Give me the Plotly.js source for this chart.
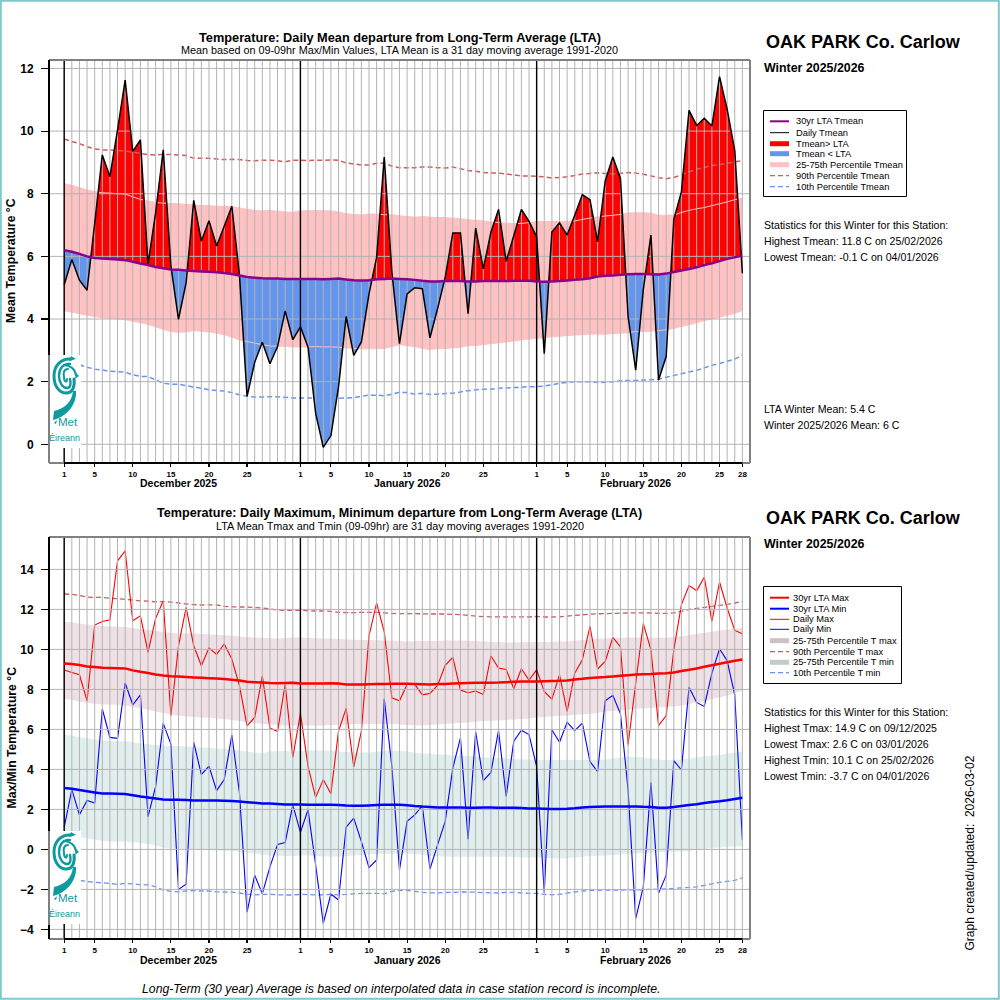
<!DOCTYPE html>
<html><head><meta charset="utf-8">
<script src="https://cdn.plot.ly/plotly-3.0.1.min.js"></script>
<style>html,body{margin:0;padding:0;background:#fff}#g{width:1000px;height:1000px}</style>
</head><body><div id="g"></div>
<script>
// ---- top panel values (1 Dec 2025 .. 28 Feb 2026)
const tmean=[5.09,5.9,5.24,4.92,7.05,9.24,8.55,10.04,11.63,9.35,9.72,5.75,7.4,9.4,5.7,3.99,5.16,7.79,6.49,7.14,6.33,6.96,7.6,5.4,1.53,2.62,3.26,2.57,3.12,4.26,3.34,
3.75,3.1,0.99,-0.1,0.28,1.83,4.08,2.84,3.27,4.8,5.97,9.17,5.5,3.21,4.8,5.0,4.97,3.4,4.33,5.33,6.75,6.75,4.17,6.9,5.6,6.77,7.5,5.84,6.66,7.5,7.12,
6.63,2.89,6.78,7.07,6.68,7.31,7.97,7.81,6.47,8.41,9.17,8.48,4.08,2.37,4.95,6.68,2.05,2.8,7.18,8.06,10.66,10.18,10.41,10.16,11.74,10.7,9.38,5.46];
const ltaMean=[6.2,6.15,6.08,6.0,5.95,5.93,5.92,5.9,5.88,5.83,5.77,5.72,5.66,5.62,5.58,5.57,5.55,5.53,5.52,5.51,5.49,5.47,5.44,5.39,5.34,5.32,5.3,5.29,5.29,5.28,5.28,
5.28,5.28,5.28,5.27,5.28,5.29,5.26,5.24,5.23,5.24,5.27,5.28,5.29,5.28,5.27,5.25,5.22,5.2,5.2,5.21,5.21,5.21,5.2,5.2,5.21,5.21,5.21,5.21,5.22,5.22,5.22,
5.2,5.19,5.2,5.21,5.23,5.25,5.27,5.3,5.36,5.38,5.39,5.41,5.43,5.44,5.44,5.43,5.42,5.45,5.5,5.55,5.6,5.65,5.72,5.78,5.85,5.92,5.97,6.03];
const mean75=[8.32,8.27,8.2,8.12,8.07,8.03,8.02,8.0,7.99,7.9,7.82,7.77,7.72,7.7,7.69,7.68,7.66,7.64,7.62,7.62,7.6,7.6,7.59,7.55,7.5,7.47,7.45,7.47,7.44,7.42,7.41,
7.45,7.46,7.46,7.46,7.45,7.42,7.36,7.34,7.32,7.35,7.35,7.33,7.33,7.3,7.27,7.25,7.27,7.25,7.24,7.24,7.22,7.2,7.17,7.15,7.13,7.1,7.08,7.06,7.05,7.05,7.08,
7.11,7.11,7.11,7.12,7.12,7.13,7.18,7.22,7.26,7.29,7.31,7.34,7.39,7.39,7.39,7.38,7.31,7.31,7.32,7.4,7.47,7.52,7.56,7.62,7.68,7.74,7.81,7.85];
const mean25=[4.26,4.22,4.17,4.12,4.08,4.04,4.02,4.0,3.98,3.93,3.88,3.83,3.75,3.67,3.6,3.57,3.59,3.63,3.61,3.59,3.55,3.5,3.42,3.33,3.28,3.23,3.18,3.14,3.13,3.13,3.11,
3.11,3.11,3.12,3.11,3.11,3.1,3.08,3.06,3.05,3.05,3.05,3.06,3.12,3.18,3.15,3.12,3.06,3.03,3.05,3.06,3.08,3.1,3.15,3.16,3.18,3.22,3.24,3.27,3.3,3.33,3.36,
3.39,3.4,3.43,3.45,3.47,3.49,3.5,3.52,3.52,3.51,3.54,3.55,3.57,3.6,3.6,3.61,3.63,3.66,3.7,3.76,3.82,3.88,3.95,4.0,4.06,4.12,4.18,4.28];
const mean90=[9.75,9.67,9.6,9.5,9.43,9.4,9.4,9.38,9.36,9.33,9.29,9.25,9.24,9.26,9.25,9.24,9.22,9.13,9.13,9.13,9.11,9.09,9.1,9.09,9.06,9.05,9.07,9.07,9.05,9.02,9.07,
9.07,9.06,9.07,9.07,9.08,9.07,8.98,8.95,8.92,8.92,8.97,8.98,8.88,8.83,8.83,8.83,8.85,8.85,8.83,8.82,8.85,8.8,8.74,8.72,8.68,8.66,8.66,8.63,8.6,8.57,8.57,
8.56,8.54,8.5,8.52,8.54,8.58,8.63,8.65,8.67,8.65,8.63,8.65,8.68,8.66,8.62,8.57,8.51,8.48,8.52,8.6,8.7,8.78,8.84,8.9,8.93,8.97,9.02,9.05];
const mean10=[2.72,2.62,2.54,2.46,2.4,2.37,2.33,2.32,2.3,2.22,2.17,2.16,2.06,1.95,1.92,1.92,1.87,1.83,1.79,1.74,1.72,1.7,1.65,1.58,1.53,1.51,1.51,1.52,1.52,1.5,1.48,
1.48,1.48,1.48,1.47,1.47,1.47,1.48,1.49,1.53,1.57,1.57,1.55,1.6,1.66,1.65,1.6,1.63,1.59,1.6,1.62,1.63,1.67,1.71,1.74,1.76,1.76,1.79,1.8,1.81,1.82,1.84,
1.84,1.86,1.9,1.95,1.98,2.0,2.0,2.0,1.97,1.98,2.0,2.03,2.04,2.04,2.05,2.06,2.08,2.14,2.2,2.25,2.31,2.36,2.44,2.52,2.58,2.65,2.72,2.85];
// ---- bottom panel values
const tmax=[8.97,8.85,8.73,7.43,11.22,11.4,11.48,14.43,14.93,11.43,11.68,9.85,11.55,12.43,6.68,10.18,12.1,10.18,9.18,10.08,9.75,10.27,9.52,8.18,6.18,6.6,8.68,6.07,5.9,8.27,4.6,
6.8,4.15,2.6,3.49,2.78,5.91,7.05,4.12,5.91,10.68,12.32,10.88,7.58,7.43,8.25,8.25,7.73,7.8,8.2,9.2,9.6,7.97,7.83,7.92,7.75,9.67,9.07,9.0,8.03,9.03,8.47,
8.98,7.9,7.51,8.73,6.9,8.81,9.48,11.15,9.02,9.4,10.6,10.12,5.23,8.31,11.29,9.98,6.19,6.69,9.98,12.24,13.19,12.94,13.61,11.4,13.37,12.07,10.95,10.78];
const tmin=[1.1,2.99,1.73,2.45,2.32,7.02,5.6,5.55,8.32,7.23,7.73,1.64,3.15,6.3,5.27,-2.0,-1.74,5.35,3.74,4.16,2.94,3.49,5.72,2.82,-3.14,-1.29,-2.21,-0.87,0.25,0.34,2.23,
0.85,1.98,-0.78,-3.7,-2.23,-2.53,1.11,1.56,0.39,-0.91,-0.53,7.53,4.15,-1.03,1.4,1.73,2.18,-0.98,0.23,1.4,4.07,5.58,0.51,5.88,3.44,3.85,5.94,2.65,5.41,5.96,5.74,
4.14,-2.17,5.98,5.36,6.36,5.94,6.31,4.39,3.89,7.43,7.7,6.78,2.97,-3.46,-1.87,3.34,-2.2,-1.29,4.44,3.97,8.11,7.35,7.15,8.81,10.03,9.43,7.73,0.47];
const ltaMax=[9.3,9.27,9.22,9.15,9.12,9.08,9.07,9.06,9.05,8.95,8.88,8.82,8.75,8.7,8.66,8.64,8.62,8.6,8.58,8.56,8.54,8.52,8.48,8.44,8.38,8.36,8.34,8.32,8.31,8.32,8.33,
8.29,8.29,8.3,8.3,8.31,8.29,8.25,8.24,8.24,8.26,8.27,8.27,8.28,8.28,8.28,8.27,8.26,8.25,8.27,8.27,8.3,8.31,8.32,8.33,8.33,8.33,8.34,8.36,8.38,8.39,8.4,
8.4,8.41,8.42,8.43,8.45,8.5,8.53,8.57,8.6,8.62,8.65,8.68,8.71,8.74,8.76,8.77,8.79,8.81,8.85,8.92,8.98,9.05,9.13,9.21,9.28,9.36,9.43,9.5];
const ltaMin=[3.07,3.03,2.97,2.91,2.85,2.8,2.79,2.78,2.77,2.71,2.64,2.6,2.55,2.5,2.48,2.48,2.47,2.45,2.45,2.45,2.44,2.43,2.42,2.39,2.36,2.33,2.3,2.29,2.27,2.25,2.25,
2.24,2.23,2.23,2.23,2.23,2.22,2.19,2.18,2.18,2.2,2.22,2.23,2.23,2.23,2.21,2.17,2.14,2.12,2.09,2.09,2.09,2.09,2.08,2.08,2.09,2.09,2.08,2.08,2.08,2.07,2.05,
2.04,2.03,2.02,2.02,2.03,2.06,2.1,2.12,2.13,2.14,2.14,2.15,2.15,2.15,2.13,2.12,2.08,2.08,2.12,2.17,2.22,2.26,2.32,2.37,2.41,2.46,2.52,2.58];
const max75=[11.37,11.36,11.3,11.25,11.2,11.17,11.15,11.13,11.12,11.07,11.02,10.98,10.93,10.87,10.83,10.8,10.8,10.79,10.77,10.75,10.73,10.71,10.68,10.65,10.62,10.6,10.58,10.56,10.55,10.57,10.6,
10.6,10.58,10.56,10.55,10.54,10.52,10.5,10.48,10.47,10.47,10.46,10.44,10.44,10.42,10.4,10.41,10.42,10.42,10.42,10.44,10.44,10.44,10.43,10.41,10.39,10.37,10.37,10.35,10.35,10.36,10.37,
10.37,10.37,10.38,10.39,10.4,10.44,10.47,10.5,10.53,10.55,10.57,10.58,10.6,10.6,10.6,10.58,10.58,10.58,10.61,10.66,10.72,10.77,10.83,10.88,10.94,10.98,11.05,11.07];
const max25=[7.52,7.47,7.4,7.33,7.28,7.25,7.25,7.23,7.2,7.13,7.06,6.98,6.9,6.82,6.75,6.68,6.66,6.62,6.6,6.58,6.55,6.52,6.47,6.42,6.35,6.32,6.27,6.25,6.22,6.2,6.2,
6.2,6.2,6.2,6.2,6.22,6.23,6.25,6.27,6.27,6.27,6.27,6.28,6.27,6.25,6.22,6.21,6.2,6.22,6.25,6.27,6.3,6.33,6.35,6.38,6.42,6.43,6.44,6.47,6.5,6.52,6.55,
6.59,6.62,6.65,6.67,6.69,6.72,6.75,6.78,6.82,6.89,6.92,6.95,7.0,7.03,7.05,7.08,7.1,7.12,7.15,7.2,7.27,7.34,7.41,7.52,7.6,7.7,7.82,7.93];
const min75=[5.73,5.68,5.62,5.55,5.5,5.45,5.42,5.42,5.42,5.36,5.3,5.26,5.22,5.19,5.17,5.17,5.15,5.12,5.1,5.08,5.05,5.02,4.99,4.95,4.9,4.85,4.82,4.9,4.92,4.92,4.9,
4.95,4.95,4.95,4.95,4.93,4.9,4.87,4.85,4.85,4.85,4.88,4.92,4.93,4.93,4.9,4.85,4.8,4.78,4.75,4.73,4.7,4.68,4.67,4.65,4.6,4.58,4.56,4.54,4.52,4.5,4.5,
4.47,4.47,4.47,4.48,4.48,4.48,4.47,4.47,4.48,4.5,4.55,4.6,4.63,4.62,4.6,4.55,4.5,4.47,4.48,4.5,4.55,4.6,4.64,4.68,4.73,4.78,4.83,4.89];
const min25=[0.72,0.66,0.6,0.55,0.5,0.42,0.4,0.38,0.4,0.36,0.33,0.27,0.2,0.1,0.05,0.03,0.03,0.0,-0.03,-0.03,-0.05,-0.07,-0.08,-0.13,-0.17,-0.2,-0.27,-0.3,-0.32,-0.33,-0.33,
-0.3,-0.3,-0.33,-0.35,-0.35,-0.35,-0.33,-0.3,-0.27,-0.25,-0.22,-0.22,-0.22,-0.2,-0.2,-0.23,-0.27,-0.33,-0.33,-0.37,-0.37,-0.37,-0.37,-0.37,-0.37,-0.37,-0.37,-0.37,-0.37,-0.4,-0.4,
-0.4,-0.42,-0.43,-0.45,-0.43,-0.4,-0.37,-0.33,-0.32,-0.3,-0.28,-0.25,-0.22,-0.2,-0.18,-0.17,-0.13,-0.12,-0.1,-0.1,-0.07,-0.03,0.02,0.07,0.1,0.13,0.15,0.15];
const max90=[12.77,12.75,12.7,12.62,12.6,12.6,12.56,12.54,12.5,12.47,12.43,12.41,12.38,12.39,12.36,12.32,12.27,12.24,12.22,12.23,12.22,12.15,12.13,12.12,12.12,12.09,12.07,12.03,11.97,11.95,11.95,
11.97,11.93,11.92,11.92,11.9,11.85,11.84,11.84,11.85,11.85,11.85,11.83,11.8,11.78,11.79,11.79,11.78,11.77,11.77,11.77,11.75,11.74,11.7,11.66,11.64,11.63,11.63,11.62,11.63,11.63,11.62,
11.65,11.62,11.62,11.63,11.66,11.7,11.73,11.76,11.78,11.79,11.8,11.81,11.82,11.83,11.83,11.82,11.8,11.8,11.83,11.9,12.0,12.05,12.1,12.15,12.2,12.25,12.32,12.4];
const min10=[-1.45,-1.5,-1.55,-1.6,-1.65,-1.67,-1.7,-1.75,-1.7,-1.72,-1.77,-1.77,-1.87,-2.03,-2.1,-2.12,-2.08,-2.06,-2.08,-2.08,-2.12,-2.13,-2.14,-2.18,-2.24,-2.27,-2.25,-2.25,-2.27,-2.28,-2.28,
-2.25,-2.26,-2.27,-2.27,-2.25,-2.27,-2.25,-2.22,-2.2,-2.2,-2.2,-2.22,-2.1,-2.05,-2.05,-2.1,-2.15,-2.17,-2.17,-2.15,-2.15,-2.13,-2.13,-2.14,-2.16,-2.17,-2.18,-2.15,-2.15,-2.18,-2.2,
-2.2,-2.25,-2.27,-2.25,-2.18,-2.13,-2.08,-2.05,-2.05,-2.03,-2.03,-2.03,-2.02,-2.02,-2.02,-2.0,-2.0,-1.97,-1.95,-1.92,-1.9,-1.87,-1.8,-1.72,-1.65,-1.6,-1.55,-1.42];

// ---- axis labels (day index counted from 1 Dec)
const dayIndex=tmean.map((_,i)=>i);
const monthStarts=[0,31,62];
const xTickVals=[0,4,9,14,19,24,31,35,40,45,50,55,62,66,71,76,81,86,89];
const xTickText=['1','5','10','15','20','25','1','5','10','15','20','25','1','5','10','15','20','25','28'];
const yTopTicks=[0,2,4,6,8,10,12];
const yBotTicks=[-4,-2,0,2,4,6,8,10,12,14];
const monthLabels=['December 2025','January 2026','February 2026'];
const stationName='OAK PARK Co. Carlow', seasonName='Winter 2025/2026';
const legendTop=['30yr LTA Tmean','Daily Tmean','Tmean> LTA','Tmean < LTA','25-75th Percentile Tmean','90th Percentile Tmean','10th Percentile Tmean'];
const legendBot=['30yr LTA Max','30yr LTA Min','Daily Max','Daily Min','25-75th Percentile T max','90th Percentile T max','25-75th Percentile T min','10th Percentile T min'];
const statsTop=['Statistics for this Winter for this Station:','Highest Tmean: 11.8 C on 25/02/2026','Lowest Tmean: -0.1 C on 04/01/2026'];
const statsTop2=['LTA Winter Mean: 5.4 C','Winter 2025/2026 Mean: 6 C'];
const statsBot=['Statistics for this Winter for this Station:','Highest Tmax: 14.9 C on 09/12/2025','Lowest Tmax: 2.6 C on 03/01/2026','Highest Tmin: 10.1 C on 25/02/2026','Lowest Tmin: -3.7 C on 04/01/2026'];

// ---- colours
const cPurple='#8B008B',cRed='#FF0000',cBlue='#6495ED',cBand='#FFC1C1',cIR='#CD5C5C',cGrid='#B3B3B3',cFrame='#808080';
const cMaxBand='#EEE0E5',cMinBand='#E0EEEE',cMaxKey='#CDC1C5',cMinKey='#C1CDCD',cTeal='#0E9A9E';
const FONT='"Liberation Sans", Arial, sans-serif';
const xRange=[-1.995,90.0], yTopRange=[-0.597,12.27], yBotRange=[-4.48,15.62];
const px=x=>x/1000, py=y=>1-y/1000;

// split the departure polygon where the daily line crosses the LTA
function splitAtCrossings(d,l){
  const xs=[],dd=[],ll=[];
  for(let i=0;i<d.length;i++){
    xs.push(i);dd.push(d[i]);ll.push(l[i]);
    if(i<d.length-1){
      const a=d[i]-l[i],b=d[i+1]-l[i+1];
      if(a*b<0){const t=a/(a-b);const v=l[i]+t*(l[i+1]-l[i]);xs.push(i+t);dd.push(v);ll.push(v);}
    }
  }
  return {xs,dd,ll};
}
const sp=splitAtCrossings(tmean,ltaMean);
const upper=sp.dd.map((v,i)=>Math.max(v,sp.ll[i]));
const lower=sp.dd.map((v,i)=>Math.min(v,sp.ll[i]));

const L=(x,y,xa,ya,color,width,dash,extra)=>Object.assign({type:'scatter',mode:'lines',x,y,xaxis:xa,yaxis:ya,hoverinfo:'skip',showlegend:false,line:{color,width,dash:dash||'solid',simplify:false}},extra||{});
const FILLNOLINE=(x,y,xa,ya,fc)=>({type:'scatter',mode:'lines',x,y,xaxis:xa,yaxis:ya,fill:'tonexty',fillcolor:fc,line:{width:0,color:'rgba(0,0,0,0)',simplify:false},hoverinfo:'skip',showlegend:false});
const BASE=(x,y,xa,ya)=>({type:'scatter',mode:'lines',x,y,xaxis:xa,yaxis:ya,line:{width:0,color:'rgba(0,0,0,0)',simplify:false},hoverinfo:'skip',showlegend:false});

function gridTrace(xa,ya,yticks,yr){
  const gx=[],gy=[];
  dayIndex.forEach(i=>{gx.push(i,i,null);gy.push(yr[0],yr[1],null);});
  yticks.forEach(v=>{gx.push(xRange[0],xRange[1],null);gy.push(v,v,null);});
  return L(gx,gy,xa,ya,cGrid,1);
}
function monthTrace(xa,ya,yr){
  const gx=[],gy=[];
  monthStarts.forEach(i=>{gx.push(i,i,null);gy.push(yr[0],yr[1],null);});
  return L(gx,gy,xa,ya,'#000',1.4);
}
const dash='5px,3px';
const traces=[
  // top panel
  BASE(dayIndex,mean25,'x','y'),
  FILLNOLINE(dayIndex,mean75,'x','y',cBand),
  BASE(sp.xs,sp.ll,'x','y'),
  FILLNOLINE(sp.xs,upper,'x','y',cRed),
  BASE(sp.xs,sp.ll,'x','y'),
  FILLNOLINE(sp.xs,lower,'x','y',cBlue),
  L(dayIndex,mean75,'x','y',cBand,1),
  L(dayIndex,mean25,'x','y',cBand,1),
  L(dayIndex,mean90,'x','y',cIR,1.5,dash),
  L(dayIndex,mean10,'x','y',cBlue,1.5,dash),
  gridTrace('x','y',yTopTicks,yTopRange),
  monthTrace('x','y',yTopRange),
  L(dayIndex,tmean,'x','y','#000',1.5),
  L(dayIndex,ltaMean,'x','y',cPurple,2.5),
  // bottom panel
  BASE(dayIndex,max25,'x2','y2'),
  FILLNOLINE(dayIndex,max75,'x2','y2',cMaxBand),
  BASE(dayIndex,min25,'x2','y2'),
  FILLNOLINE(dayIndex,min75,'x2','y2',cMinBand),
  L(dayIndex,max90,'x2','y2',cIR,1.3,dash),
  L(dayIndex,min10,'x2','y2',cBlue,1.3,dash),
  L(dayIndex,tmax,'x2','y2',cRed,1.1),
  L(dayIndex,tmin,'x2','y2','#0000FF',1.1),
  gridTrace('x2','y2',yBotTicks,yBotRange),
  monthTrace('x2','y2',yBotRange),
  L(dayIndex,ltaMax,'x2','y2',cRed,2.5),
  L(dayIndex,ltaMin,'x2','y2','#0000FF',2.5)
];

const ann=[];
const T=(text,x,y,size,opt)=>ann.push(Object.assign({text,x:px(x),y:py(y),xref:'paper',yref:'paper',xanchor:'left',yanchor:'middle',showarrow:false,font:{family:FONT,size,color:'#000'},borderpad:0},opt||{}));
const C={xanchor:'center'};
T('<b>Temperature: Daily Mean departure from Long-Term Average (LTA)</b>',399.5,37,12.75,C);
T('Mean based on 09-09hr Max/Min Values, LTA Mean is a 31 day moving average 1991-2020',399.5,50,10.8,C);
T('<b>Temperature: Daily Maximum, Minimum departure from Long-Term Average (LTA)</b>',399.5,513,12.6,C);
T('LTA Mean Tmax and Tmin (09-09hr) are 31 day moving averages 1991-2020',399.5,526,10.85,C);
T('<b>Mean Temperature °C</b>',11,261,12.2,{xanchor:'center',textangle:-90});
T('<b>Max/Min Temperature °C</b>',11,737.5,12.2,{xanchor:'center',textangle:-90});
[[178,483],[407,483],[635.5,483]].forEach((p,i)=>T('<b>'+monthLabels[i]+'</b>',p[0],p[1],10.5,C));
[[178,959.5],[407,959.5],[635.5,959.5]].forEach((p,i)=>T('<b>'+monthLabels[i]+'</b>',p[0],p[1],10.5,C));
T('<b>'+stationName+'</b>',765,42,18);
T('<b>'+stationName+'</b>',765,518,18);
T('<b>'+seasonName+'</b>',762.5,68,12.4);
T('<b>'+seasonName+'</b>',762.5,544,12.4);
const rowsTop=[121.3,132.7,143.7,153.7,164.7,175.7,186.7], rowsBot=[597.7,608.7,619.3,629.3,640.7,651.7,662.3,672.7];
legendTop.forEach((t,i)=>T(t,794.5,rowsTop[i],9.3));
legendBot.forEach((t,i)=>T(t,791.5,rowsBot[i],9.3));
statsTop.forEach((t,i)=>T(t,762.5,225+16*i,10.6));
statsTop2.forEach((t,i)=>T(t,762.5,409+16*i,10.6));
statsBot.forEach((t,i)=>T(t,762.5,712+16*i,10.6));
T('Graph created/updated:  2026-03-02',969.5,853,12,{xanchor:'center',textangle:-90});
T('<i>Long-Term (30 year) Average is based on interpolated data in case station record is incomplete.</i>',400.5,989,12.25,C);
// logo wording
[355,831].forEach(t=>{
  T('Met',68,t+67,11.5,{xanchor:'center',font:{family:FONT,size:11.5,color:cTeal}});
  T('Éireann',64.5,t+83,9,{xanchor:'center',font:{family:FONT,size:9,color:cTeal}});
});

const shapes=[];
const seg=(x0,y0,x1,y1,color,width,d)=>shapes.push({type:'line',xref:'paper',yref:'paper',x0:px(x0),y0:py(y0),x1:px(x1),y1:py(y1),line:{color,width,dash:d||'solid'},layer:'above'});
// frames: grey box, black axis runs
[[60,463,355],[537,939,831]].forEach(([t,b,l])=>{
  seg(49,t,750,t,cFrame,2); seg(750,t,750,b,cFrame,2); seg(49,b,750,b,cFrame,2); seg(49,t,49,b,cFrame,2);
  seg(49,t,49,l,'#000',2); seg(64,b,742.4,b,'#000',2);
});
seg(49,925,49,939,'#000',2);
// legend boxes and keys
const box=(x0,y0,x1,y1)=>shapes.push({type:'rect',xref:'paper',yref:'paper',x0:px(x0),y0:py(y0),x1:px(x1),y1:py(y1),line:{color:'#000',width:1},fillcolor:'#fff',layer:'below'});
box(763.5,110.5,906.5,196.5);
box(763.5,586.5,901.5,683.5);
const k=(y,color,width,d)=>seg(770,y,789,y,color,width,d);
k(rowsTop[0],cPurple,2);k(rowsTop[1],'#000',1);k(rowsTop[2],cRed,5);k(rowsTop[3],cBlue,5);k(rowsTop[4],cBand,5);k(rowsTop[5],cIR,1.3,'5px,3px');k(rowsTop[6],cBlue,1.3,'5px,3px');
k(rowsBot[0],cRed,2);k(rowsBot[1],'#0000FF',2);k(rowsBot[2],cRed,1);k(rowsBot[3],'#0000FF',1);k(rowsBot[4],cMaxKey,5);k(rowsBot[5],cIR,1.3,'5px,3px');k(rowsBot[6],cMinKey,5);k(rowsBot[7],cBlue,1.3,'5px,3px');
// outer border
shapes.push({type:'rect',xref:'paper',yref:'paper',x0:0.0008,y0:0.0012,x1:0.9988,y1:0.9992,line:{color:'#7FC8CC',width:2},layer:'above'});

// logo emblem
const logoSvg="<svg xmlns='http://www.w3.org/2000/svg' width='31' height='93' viewBox='0 0 31 93'><rect width='31' height='93' fill='white'/>"+
"<g fill='none' stroke='#0E9A9E' stroke-linecap='round'>"+
"<path d='M21 4 C11 3 4 11 4 21 C4 32 10 38 16 38 C23 38 25 31 24 24' stroke-width='3'/>"+
"<path d='M20 9 C13 8 9 14 9 21 C9 28 13 33 17 33 C21 33 21 28 20 24' stroke-width='2.4'/>"+
"<path d='M18 14 C14 14 13 18 14 22 C14 27 17 28 17 24' stroke-width='2'/>"+
"<path d='M14 10 C20 10 25 14 26 20' stroke-width='2'/></g>"+
"<path d='M21 1 L26 4 L19 6 Z' fill='#0E9A9E'/><path d='M26 18 L29 21 L25 24 Z' fill='#0E9A9E'/>"+
"<path d='M23 36 C22 47 14 54 4 56 L3 65 C16 62 27 50 26 36 Z' fill='#0E9A9E'/><path d='M4 68 L7 65 L6 69 Z' fill='#0E9A9E'/></svg>";
const logoUri='data:image/svg+xml;charset=utf-8,'+encodeURIComponent(logoSvg);
const images=[355,831].map(t=>({source:logoUri,xref:'paper',yref:'paper',x:px(50),y:py(t),sizex:0.031,sizey:0.093,sizing:'stretch',xanchor:'left',yanchor:'top',layer:'above'}));

const xAxisCommon={range:xRange,tickmode:'array',tickvals:xTickVals,ticktext:xTickText,ticks:'outside',ticklen:3,tickwidth:1.2,tickcolor:'#000',tickangle:0,
  showgrid:false,zeroline:false,showline:false,domain:[0.049,0.750],tickfont:{family:FONT,size:8,color:'#000',weight:'bold'},fixedrange:true};
const yAxisCommon={tickmode:'array',ticks:'outside',ticklen:7,tickwidth:1.2,tickcolor:'#000',showgrid:false,zeroline:false,showline:false,
  tickfont:{family:FONT,size:12,color:'#000',weight:'bold'},fixedrange:true,ticklabelstandoff:5};
const layout={width:1000,height:1000,autosize:false,margin:{l:0,r:0,t:0,b:0,pad:0},paper_bgcolor:'#fff',plot_bgcolor:'#fff',showlegend:false,
  xaxis:Object.assign({anchor:'y'},xAxisCommon),
  yaxis:Object.assign({anchor:'x',domain:[0.537,0.94],range:yTopRange,tickvals:yTopTicks},yAxisCommon),
  xaxis2:Object.assign({anchor:'y2'},xAxisCommon),
  yaxis2:Object.assign({anchor:'x2',domain:[0.061,0.463],range:yBotRange,tickvals:yBotTicks},yAxisCommon),
  annotations:ann,shapes,images};
Plotly.newPlot('g',traces,layout,{staticPlot:true,displayModeBar:false});
</script></body></html>
